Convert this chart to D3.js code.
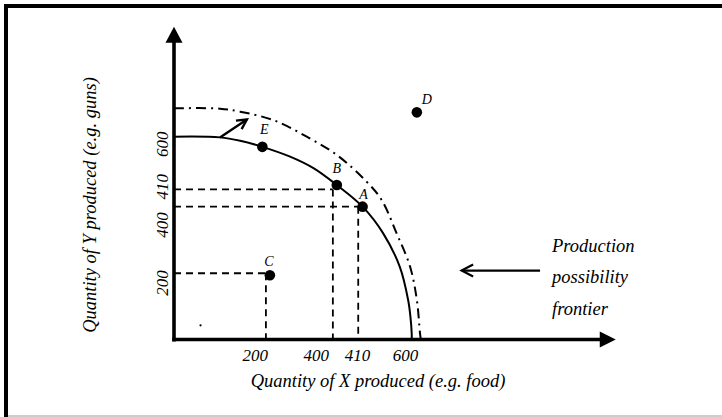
<!DOCTYPE html>
<html>
<head>
<meta charset="utf-8">
<script src="https://cdn.jsdelivr.net/npm/d3@7"></script>
<style>
  html, body { margin: 0; padding: 0; background: #fff; }
  svg { display: block; }
  text { font-family: "Liberation Serif", "Times New Roman", serif; font-style: italic; fill: #000; }
</style>
</head>
<body>
<svg id="chart" width="722" height="417"></svg>
<script>
// ---- data (schematic units: 600 = frontier intercept on each axis) ----
const frontier = [[0,600],[116,598],[167,588],[223,570],[293,541],[352,507],[411,457],[476,393],[528,314],[570,215],[591,117],[597,65],[600,18],[600,0]];
const frontierShifted = [[0,684],[116,683],[167,674],[251,649],[335,600],[411,546],[486,467],[524,413],[562,314],[596,215],[613,117],[621,18],[623,0]];

const pointNames = ["A", "B", "C", "D", "E"];
const pointX = [476, 411, 242, 613, 223];
const pointY = [393, 457, 190, 672, 570];

const guideNames = ["C", "B", "A"];
const guideX = [232, 401, 465];
const guideY = [196, 444, 393];

const xTickPos = [204, 358, 462, 583];
const xTickLabels = ["200", "400", "410", "600"];
const yTickPos = [578, 452, 339, 167];
const yTickLabels = ["600", "410", "400", "200"];

const xAxisMax = 1115;
const yAxisMax = 925;

const shiftArrow = [[116, 598], [184, 651]];
const ppfArrow = [[924, 204], [726, 204]];
const ppfLabelLines = ["Production", "possibility", "frontier"];

const xTitle = "Quantity of X produced (e.g. food)";
const yTitle = "Quantity of Y produced (e.g. guns)";

// ---- drawing ----
const svg = d3.select("#chart");
const x = d3.scaleLinear().domain([0, 600]).range([174, 411.7]);
const y = d3.scaleLinear().domain([0, 600]).range([339.5, 136.7]);

// frame
svg.append("rect").attr("x", 4).attr("y", 4).attr("width", 718).attr("height", 4).attr("fill", "#000");
svg.append("rect").attr("x", 4).attr("y", 4).attr("width", 4).attr("height", 413).attr("fill", "#000");
svg.append("line").attr("x1", 8).attr("x2", 722).attr("y1", 416).attr("y2", 416)
  .attr("stroke", "#bdbdbd").attr("stroke-width", 1.5);

// guides (dashed)
const guides = svg.append("g").attr("fill", "none").attr("stroke", "#000")
  .attr("stroke-width", 1.8).attr("stroke-dasharray", "7,5");
guideNames.forEach((n, i) => {
  guides.append("line").attr("x1", x(0)).attr("x2", x(guideX[i])).attr("y1", y(guideY[i])).attr("y2", y(guideY[i]));
  guides.append("line").attr("x1", x(guideX[i])).attr("x2", x(guideX[i])).attr("y1", y(guideY[i])).attr("y2", y(0));
});

// frontiers
const line = d3.line().x(d => x(d[0])).y(d => y(d[1])).curve(d3.curveCatmullRom.alpha(0.5));
svg.append("path").datum(frontierShifted).attr("d", line).attr("fill", "none")
  .attr("stroke", "#000").attr("stroke-width", 2).attr("stroke-dasharray", "10,5,2,5");
svg.append("path").datum(frontier).attr("d", line).attr("fill", "none")
  .attr("stroke", "#000").attr("stroke-width", 2);

// axes
const axes = svg.append("g");
axes.append("line").attr("x1", x(0)).attr("x2", x(0)).attr("y1", y(0) + 2).attr("y2", y(yAxisMax) + 14)
  .attr("stroke", "#000").attr("stroke-width", 3.6);
axes.append("line").attr("x1", x(0) - 1.8).attr("x2", x(xAxisMax) - 14).attr("y1", y(0)).attr("y2", y(0))
  .attr("stroke", "#000").attr("stroke-width", 3.6);
axes.append("path")
  .attr("d", `M${x(0)},${y(yAxisMax)} L${x(0) - 8.5},${y(yAxisMax) + 16} L${x(0) + 8.5},${y(yAxisMax) + 16} Z`)
  .attr("fill", "#000");
axes.append("path")
  .attr("d", `M${x(xAxisMax)},${y(0)} L${x(xAxisMax) - 16},${y(0) - 8} L${x(xAxisMax) - 16},${y(0) + 8} Z`)
  .attr("fill", "#000");

// x tick labels via axis
const xAxis = d3.axisBottom(x).tickValues(xTickPos).tickFormat((d, i) => xTickLabels[i]).tickSize(0).tickPadding(9);
const gx = svg.append("g").attr("transform", `translate(0,${y(0)})`).call(xAxis);
gx.select(".domain").remove();
gx.selectAll("text").style("font-family", '"Liberation Serif", "Times New Roman", serif')
  .style("font-style", "italic").style("font-size", "17px").attr("fill", "#000");

// y tick labels (rotated)
svg.append("g").selectAll("text").data(yTickPos).join("text")
  .attr("transform", d => `translate(168,${y(d)}) rotate(-90)`)
  .attr("text-anchor", "middle").style("font-size", "17px")
  .text((d, i) => yTickLabels[i]);

// points
svg.append("g").selectAll("circle").data(pointNames).join("circle")
  .attr("cx", (d, i) => x(pointX[i])).attr("cy", (d, i) => y(pointY[i])).attr("r", 5.3).attr("fill", "#000");
const labelOffset = { A: [1, -8], B: [0, -12], C: [-1, -9], D: [10, -8], E: [2, -13] };
svg.append("g").selectAll("text").data(pointNames).join("text")
  .attr("x", (d, i) => x(pointX[i]) + labelOffset[d][0])
  .attr("y", (d, i) => y(pointY[i]) + labelOffset[d][1])
  .attr("text-anchor", "middle").style("font-size", "14px").text(d => d);

// stray dot near origin
svg.append("circle").attr("cx", x(67)).attr("cy", y(42)).attr("r", 1.1).attr("fill", "#000");

// arrow helper (open head)
function openArrow(p0, p1, len, ang, sw) {
  const x0 = x(p0[0]), y0 = y(p0[1]), x1 = x(p1[0]), y1 = y(p1[1]);
  const a = Math.atan2(y0 - y1, x0 - x1);
  const g = svg.append("g").attr("stroke", "#000").attr("stroke-width", sw).attr("fill", "none")
    .attr("stroke-linecap", "butt").attr("stroke-linejoin", "miter");
  g.append("line").attr("x1", x0).attr("y1", y0).attr("x2", x1).attr("y2", y1);
  g.append("path").attr("d",
    `M${x1 + len * Math.cos(a + ang)},${y1 + len * Math.sin(a + ang)} L${x1},${y1} L${x1 + len * Math.cos(a - ang)},${y1 + len * Math.sin(a - ang)}`);
}
openArrow(shiftArrow[0], shiftArrow[1], 11, Math.PI / 6.5, 2.4);
openArrow(ppfArrow[0], ppfArrow[1], 13, Math.PI / 6.5, 2.2);

// PPF label
svg.append("g").selectAll("text").data(ppfLabelLines).join("text")
  .attr("x", 552).attr("y", (d, i) => 251.7 + i * 31.7)
  .style("font-size", "18.5px").text(d => d);

// axis titles
svg.append("text").attr("x", 378).attr("y", 387).attr("text-anchor", "middle")
  .style("font-size", "18.5px").text(xTitle);
svg.append("text").attr("transform", "translate(96,205) rotate(-90)").attr("text-anchor", "middle")
  .style("font-size", "18.5px").text(yTitle);
</script>
</body>
</html>
